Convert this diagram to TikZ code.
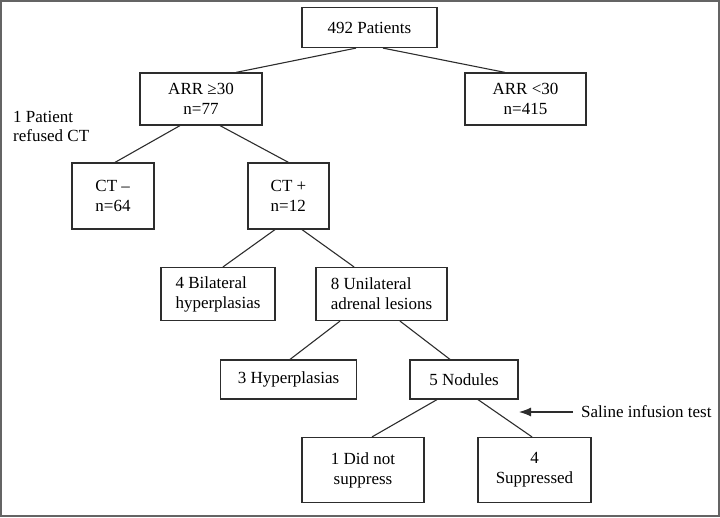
\documentclass[tikz,border=0pt]{standalone}
\usepackage{fontspec}
\setmainfont{Liberation Serif}
\usepackage{tikz}
\usetikzlibrary{arrows.meta, positioning}
\definecolor{framegray}{RGB}{100,100,100}
\definecolor{linegray}{RGB}{45,45,45}

\begin{document}
\begin{tikzpicture}[
    x=1pt, y=-1pt,
    box/.style={rectangle, draw=linegray, line width=1.2pt, inner sep=0pt, align=center, font=\fontsize{17}{20}\selectfont},
    lbox/.style={box, align=left},
    note/.style={inner sep=0pt, align=left, font=\fontsize{17}{19}\selectfont},
    link/.style={draw=linegray, line width=1.1pt},
    arr/.style={-{Latex[length=12pt, width=9pt]}, draw=linegray, line width=1.1pt}
]
\useasboundingbox (0,0) rectangle (720,517);
\draw[framegray, line width=2pt] (1,1) rectangle (719,516);

\node[box, minimum width=135pt, minimum height=40pt] (all) at (369.5,27.5) {492 Patients};
\node[box, minimum width=122pt, minimum height=52pt] (high) at (201,99) {ARR ≥30\\n=77};
\node[box, minimum width=121pt, minimum height=52pt] (low) at (525.5,99) {ARR <30\\n=415};
\node[note, anchor=west] (refused) at (13,126) {1 Patient\\refused CT};
\node[lbox, minimum width=82pt, minimum height=66pt] (ctneg) at (113,196) {CT --\\n=64};
\node[lbox, minimum width=81pt, minimum height=66pt] (ctpos) at (288.5,196) {CT +\\n=12};
\node[lbox, minimum width=114pt, minimum height=53pt] (bilat) at (218,294) {4 Bilateral\\hyperplasias};
\node[lbox, minimum width=131pt, minimum height=53pt] (unilat) at (381.5,294) {8 Unilateral\\adrenal lesions};
\node[box, minimum width=136pt, minimum height=39pt] (hyper) at (288.5,379.5) {3 Hyperplasias};
\node[box, minimum width=108pt, minimum height=39pt] (nodul) at (464,379.5) {5 Nodules};
\node[box, minimum width=122pt, minimum height=65pt] (nosupp) at (363,470) {1 Did not\\suppress};
\node[box, minimum width=113pt, minimum height=65pt] (supp) at (534.5,470) {4\\Suppressed};
\node[note, anchor=west] (saline) at (581,412) {Saline infusion test};
\coordinate (salend) at (519,412);

\draw[link] ([xshift=-13.5pt]all.south) -- ([xshift=35pt]high.north);
\draw[link] ([xshift=13.5pt]all.south) -- ([xshift=-20.5pt]low.north);
\draw[link] ([xshift=-21pt]high.south) -- ([xshift=2pt]ctneg.north);
\draw[link] ([xshift=19pt]high.south) -- (ctpos.north);
\draw[link] ([xshift=-13.5pt]ctpos.south) -- ([xshift=5pt]bilat.north);
\draw[link] ([xshift=13.5pt]ctpos.south) -- ([xshift=-27.5pt]unilat.north);
\draw[link] ([xshift=-41.5pt]unilat.south) -- ([xshift=1.5pt]hyper.north);
\draw[link] ([xshift=18.5pt]unilat.south) -- ([xshift=-14pt]nodul.north);
\draw[link] ([xshift=-27pt]nodul.south) -- ([xshift=9pt]nosupp.north);
\draw[link] ([xshift=14pt]nodul.south) -- ([xshift=-2.5pt]supp.north);
\draw[arr] ([xshift=-8pt]saline.west) -- (salend);
\end{tikzpicture}
\end{document}
